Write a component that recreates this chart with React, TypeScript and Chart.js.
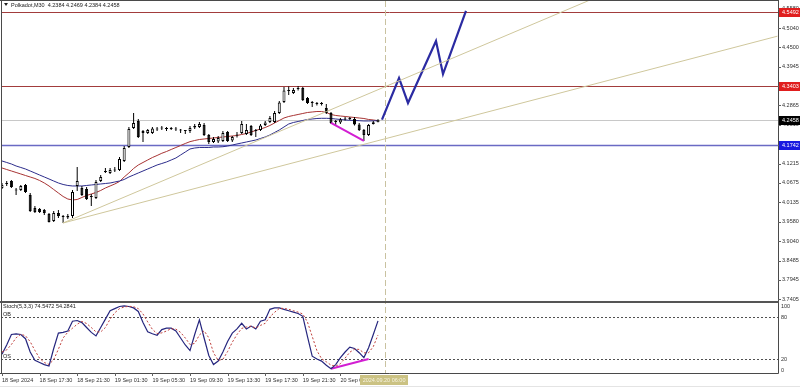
import React, { useEffect, useRef } from "react";
import { Chart, registerables } from "chart.js";

Chart.register(...registerables);

// ---------- DATA (Polkadot, M30) ----------
const openPrices = [
  4.0533, 4.0646, 4.0730, 4.0491, 4.0477, 4.0618, 4.0336, 3.9970, 3.9942, 3.9914,
  3.9801, 3.9604, 3.9829, 3.9745, 3.9702, 3.9745, 4.0590, 4.0533, 4.0505, 4.0308,
  4.0252, 4.0730, 4.0984, 4.0956, 4.1040, 4.1040, 4.1294, 4.1688, 4.2223, 4.2421,
  4.2139, 4.2083, 4.2083, 4.2181, 4.2223, 4.2209, 4.2195, 4.2209, 4.2181, 4.2153,
  4.2139, 4.2237, 4.2252, 4.2308, 4.2026, 4.1829, 4.1843, 4.1857, 4.2111, 4.1871,
  4.2012, 4.2083, 4.2054, 4.2280, 4.2167, 4.2167, 4.2308, 4.2392, 4.2392, 4.2646,
  4.2956, 4.3294, 4.3209, 4.3322, 4.3350, 4.3068, 4.2956, 4.2914, 4.2899, 4.2787,
  4.2646, 4.2421, 4.2378, 4.2463, 4.2491, 4.2477, 4.2322, 4.2167, 4.2026, 4.2336,
  4.2384,
];
const highPrices = [
  4.0674, 4.0730, 4.0759, 4.0533, 4.0618, 4.0646, 4.0392, 4.0026, 3.9970, 3.9942,
  3.9829, 3.9885, 3.9914, 3.9773, 3.9801, 4.0477, 4.1125, 4.0590, 4.0561, 4.0364,
  4.0759, 4.0899, 4.1097, 4.1097, 4.1125, 4.1406, 4.1716, 4.2252, 4.2646, 4.2477,
  4.2167, 4.2195, 4.2252, 4.2252, 4.2280, 4.2252, 4.2252, 4.2252, 4.2195, 4.2167,
  4.2280, 4.2336, 4.2392, 4.2364, 4.2054, 4.1970, 4.1998, 4.2139, 4.2139, 4.1998,
  4.2111, 4.2421, 4.2336, 4.2308, 4.2195, 4.2336, 4.2421, 4.2561, 4.2702, 4.2984,
  4.3378, 4.3390, 4.3350, 4.3403, 4.3378, 4.3097, 4.2984, 4.2956, 4.2956, 4.2899,
  4.2674, 4.2449, 4.2505, 4.2533, 4.2533, 4.2533, 4.2364, 4.2195, 4.2336, 4.2421,
  4.2469,
];
const lowPrices = [
  4.0505, 4.0590, 4.0533, 4.0336, 4.0449, 4.0392, 3.9857, 3.9829, 3.9829, 3.9773,
  3.9562, 3.9576, 3.9688, 3.9547, 3.9660, 3.9688, 4.0449, 4.0308, 4.0195, 4.0026,
  4.0223, 4.0702, 4.0956, 4.0928, 4.0984, 4.1012, 4.1266, 4.1660, 4.2195, 4.1942,
  4.1829, 4.2054, 4.2054, 4.2139, 4.2167, 4.2139, 4.2167, 4.2139, 4.2083, 4.2054,
  4.2083, 4.2195, 4.2223, 4.1998, 4.1773, 4.1801, 4.1801, 4.1829, 4.1829, 4.1829,
  4.1956, 4.2054, 4.2026, 4.1998, 4.1970, 4.2139, 4.2280, 4.2364, 4.2364, 4.2618,
  4.2928, 4.3153, 4.3181, 4.3280, 4.2984, 4.2899, 4.2815, 4.2857, 4.2857, 4.2618,
  4.2336, 4.2280, 4.2336, 4.2435, 4.2449, 4.2294, 4.2139, 4.1857, 4.1998, 4.2322,
  4.2384,
];
const closePrices = [
  4.0618, 4.0674, 4.0561, 4.0463, 4.0590, 4.0421, 3.9885, 3.9857, 3.9857, 3.9829,
  3.9576, 3.9829, 3.9745, 3.9716, 3.9745, 4.0421, 4.0730, 4.0336, 4.0223, 4.0280,
  4.0702, 4.0843, 4.1012, 4.1040, 4.1026, 4.1350, 4.1660, 4.2195, 4.2364, 4.1970,
  4.2083, 4.2167, 4.2209, 4.2209, 4.2209, 4.2195, 4.2209, 4.2181, 4.2153, 4.2139,
  4.2223, 4.2280, 4.2336, 4.2026, 4.1829, 4.1914, 4.1942, 4.2083, 4.1857, 4.1970,
  4.2040, 4.2336, 4.2167, 4.2026, 4.2139, 4.2294, 4.2378, 4.2505, 4.2646, 4.2942,
  4.3280, 4.3266, 4.3294, 4.3350, 4.3012, 4.2928, 4.2928, 4.2899, 4.2914, 4.2646,
  4.2364, 4.2392, 4.2463, 4.2491, 4.2477, 4.2322, 4.2167, 4.2026, 4.2308, 4.2384,
  4.2458,
];
const maSlow = [
  4.1294, 4.1252, 4.1209, 4.1153, 4.1111, 4.1068, 4.1012, 4.0956, 4.0899, 4.0843,
  4.0787, 4.0730, 4.0674, 4.0632, 4.0604, 4.0590, 4.0590, 4.0590, 4.0604, 4.0618,
  4.0632, 4.0646, 4.0660, 4.0674, 4.0702, 4.0730, 4.0773, 4.0843, 4.0899, 4.0956,
  4.1012, 4.1068, 4.1125, 4.1181, 4.1223, 4.1266, 4.1322, 4.1378, 4.1463, 4.1547,
  4.1632, 4.1660, 4.1674, 4.1674, 4.1674, 4.1688, 4.1688, 4.1696, 4.1716, 4.1744,
  4.1773, 4.1801, 4.1829, 4.1857, 4.1885, 4.1928, 4.1970, 4.2026, 4.2097, 4.2167,
  4.2252, 4.2336, 4.2378, 4.2407, 4.2435, 4.2463, 4.2477, 4.2491, 4.2496, 4.2496,
  4.2491, 4.2477, 4.2463, 4.2449, 4.2440, 4.2435, 4.2429, 4.2421, 4.2421, 4.2426,
  4.2429,
];
const maFast = [
  4.1097, 4.1054, 4.1012, 4.0970, 4.0928, 4.0885, 4.0843, 4.0801, 4.0745, 4.0674,
  4.0590, 4.0491, 4.0392, 4.0294, 4.0223, 4.0195, 4.0209, 4.0266, 4.0322, 4.0364,
  4.0406, 4.0463, 4.0533, 4.0590, 4.0646, 4.0716, 4.0843, 4.0956, 4.1083, 4.1181,
  4.1252, 4.1322, 4.1392, 4.1449, 4.1511, 4.1561, 4.1618, 4.1674, 4.1730, 4.1787,
  4.1838, 4.1871, 4.1899, 4.1914, 4.1928, 4.1942, 4.1956, 4.1970, 4.1984, 4.1998,
  4.2012, 4.2040, 4.2068, 4.2111, 4.2153, 4.2195, 4.2237, 4.2294, 4.2364, 4.2435,
  4.2505, 4.2547, 4.2576, 4.2604, 4.2632, 4.2660, 4.2674, 4.2688, 4.2688, 4.2660,
  4.2604, 4.2576, 4.2561, 4.2547, 4.2533, 4.2519, 4.2505, 4.2491, 4.2463, 4.2449,
  4.2429,
];
const stochMain = [
  27, 40, 55, 56, 55, 49, 30, 18, 15, 12,
  10, 35, 57, 58, 60, 74, 75, 72, 65, 58,
  53, 65, 77, 89, 92, 95, 96, 95, 93, 88,
  72, 59, 56, 54, 62, 64, 64, 60, 50, 40,
  32, 55, 76, 50, 25, 12, 17, 30, 45, 57,
  63, 71, 63, 67, 63, 74, 76, 91, 93, 93,
  91, 89, 87, 85, 81, 52, 24, 20, 17, 11,
  6, 12, 22, 30, 37, 35, 29, 22, 36, 55,
  74.5,
];
const stochSignal = [
  30, 33, 40.7, 50.3, 55.3, 53.3, 44.7, 32.3, 21, 15,
  12.3, 19, 34, 50, 58.3, 64, 69.7, 73.7, 70.7, 65,
  58.7, 58.7, 65, 77, 86, 92, 94.3, 95.3, 94.7, 92,
  84.3, 73, 62.3, 56.3, 57.3, 60, 63.3, 62.7, 58, 50,
  40.7, 42.3, 54.3, 60.3, 50.3, 29, 18, 19.7, 30.7, 44,
  55, 63.7, 65.7, 67, 64.3, 68, 71, 80.3, 86.7, 92.3,
  92.3, 91, 89, 87, 84.3, 72.7, 52.3, 32, 20.3, 16,
  11.3, 9.7, 13.3, 21.3, 29.7, 34, 33.7, 28.7, 29, 37.7,
  54.3,
];

const priceTicks = [4.558, 4.504, 4.45, 4.3945, 4.3405, 4.2865, 4.231, 4.1755, 4.1215, 4.0675, 4.0135, 3.958, 3.904, 3.8485, 3.7945, 3.7405];
const resistanceLevels = [4.5492, 4.3403];
const supportLevel = 4.1742;
const lastPrice = 4.2458;
const timeLabels = ["18 Sep 2024", "18 Sep 17:30", "18 Sep 21:30", "19 Sep 01:30", "19 Sep 05:30", "19 Sep 09:30", "19 Sep 13:30", "19 Sep 17:30", "19 Sep 21:30", "20 Sep 01:30"];
const timeLabelBars = [0, 8, 16, 24, 32, 40, 48, 56, 64, 72];
const cursorBar = 81.5;
const cursorLabel = "2024.09.20 06:00";
const stochLevels = [80, 20];
const stochAxisLabels = [100, 80, 20, 0];
const projectionBars = [80.85, 84.47, 86.38, 92.34, 93.83, 98.72];
const projectionPrices = [4.246, 4.3632, 4.2928, 4.4674, 4.3744, 4.5519];
const trendBars = [13, 165];
const trendUpperPrices = [3.9547, 4.8064];
const trendLowerPrices = [3.9547, 4.481];
const divergenceBars = [70, 77];
const divergencePrices = [4.2364, 4.1857];
const stochDivBars = [70, 78];
const stochDivValues = [6, 20];
const titleText = "Polkadot,M30  4.2384 4.2469 4.2384 4.2458";
const stochTitle = "Stoch(5,3,3) 74.5472 54.2841";

// ---------- helpers ----------
const FONT = '5.5px "Liberation Sans", Arial, sans-serif';
const TXT = "#303030";

const pts = (xs: number[], ys: number[]) => xs.map((x, i) => ({ x, y: ys[i] }));
const series = (ys: number[]) => ys.map((y, i) => ({ x: i, y }));

const lineDs = (data: any[], color: string, width: number, axis = "y", dash: number[] = [], order = 0) => ({
  type: "line",
  data,
  borderColor: color,
  borderWidth: width,
  borderDash: dash,
  pointRadius: 0,
  fill: false,
  tension: 0,
  yAxisID: axis,
  order,
});

const mt4Plugin = {
  id: "mt4",
  beforeDraw(chart: any) {
    const { ctx, width, height } = chart;
    ctx.save();
    ctx.fillStyle = "#ffffff";
    ctx.fillRect(0, 0, width, height);
    ctx.restore();
  },
  beforeDatasetsDraw(chart: any) {
    const { ctx, chartArea: a } = chart;
    const ys = chart.scales.y, y2 = chart.scales.y2, xs = chart.scales.x;
    ctx.save();
    const hline = (v: number, color: string, w: number) => {
      const py = Math.round(ys.getPixelForValue(v)) + 0.5;
      ctx.strokeStyle = color;
      ctx.lineWidth = w;
      ctx.beginPath();
      ctx.moveTo(a.left, py);
      ctx.lineTo(a.right, py);
      ctx.stroke();
    };
    hline(lastPrice, "#c8c8c8", 1);
    resistanceLevels.forEach((v) => hline(v, "#a23c3c", 1));
    hline(supportLevel, "#6a6ac4", 1.6);
    // stoch levels
    ctx.setLineDash([2, 2]);
    ctx.strokeStyle = "#505050";
    ctx.lineWidth = 1;
    stochLevels.forEach((v) => {
      const py = Math.round(y2.getPixelForValue(v)) + 0.5;
      ctx.beginPath();
      ctx.moveTo(a.left, py);
      ctx.lineTo(a.right, py);
      ctx.stroke();
    });
    // cursor vertical
    ctx.setLineDash([6, 3]);
    ctx.strokeStyle = "#c9c2a0";
    const cx = Math.round(xs.getPixelForValue(cursorBar)) + 0.5;
    ctx.beginPath();
    ctx.moveTo(cx, a.top);
    ctx.lineTo(cx, a.bottom);
    ctx.stroke();
    ctx.restore();
  },
  afterDatasetsDraw(chart: any) {
    const { ctx, chartArea: a, width } = chart;
    const ys = chart.scales.y, y2 = chart.scales.y2, xs = chart.scales.x;
    const sepY = Math.round(y2.getPixelForValue(100)) - 2;
    ctx.save();
    // borders
    ctx.strokeStyle = "#4a4a4a";
    ctx.lineWidth = 1;
    ctx.beginPath();
    ctx.moveTo(0, 0.5); ctx.lineTo(a.right, 0.5);
    ctx.moveTo(1.5, 0); ctx.lineTo(1.5, a.bottom);
    ctx.moveTo(a.right + 0.5, 0); ctx.lineTo(a.right + 0.5, a.bottom + 0.5);
    ctx.moveTo(0, a.bottom + 0.5); ctx.lineTo(a.right + 0.5, a.bottom + 0.5);
    ctx.stroke();
    ctx.fillStyle = "#555555";
    ctx.fillRect(0, sepY, a.right + 1, 2);
    ctx.fillStyle = "#e4e4e4";
    ctx.fillRect(0, 386, width, 1);

    ctx.font = FONT;
    ctx.textBaseline = "middle";
    // price axis
    ctx.textAlign = "left";
    priceTicks.forEach((v) => {
      const py = ys.getPixelForValue(v);
      ctx.strokeStyle = "#606060";
      ctx.beginPath();
      ctx.moveTo(a.right, Math.round(py) + 0.5);
      ctx.lineTo(a.right + 3, Math.round(py) + 0.5);
      ctx.stroke();
      ctx.fillStyle = TXT;
      ctx.fillText(v.toFixed(4), a.right + 4, py);
    });
    const box = (v: number, bg: string) => {
      const py = ys.getPixelForValue(v);
      ctx.fillStyle = bg;
      ctx.fillRect(a.right + 1, Math.round(py) - 4, width - a.right - 1, 9);
      ctx.fillStyle = "#ffffff";
      ctx.fillText(v.toFixed(4), a.right + 4, Math.round(py) + 0.5);
    };
    resistanceLevels.forEach((v) => box(v, "#e01e1e"));
    box(lastPrice, "#000000");
    box(supportLevel, "#1a1ae0");

    // stoch axis
    ctx.fillStyle = TXT;
    stochAxisLabels.forEach((v) => {
      let py = y2.getPixelForValue(v);
      if (v === 100) py += 3;
      if (v === 0) py -= 3;
      ctx.fillText(String(v), a.right + 3, py);
    });

    // time axis
    timeLabels.forEach((t, i) => {
      const px = xs.getPixelForValue(timeLabelBars[i]);
      ctx.strokeStyle = "#606060";
      ctx.beginPath();
      ctx.moveTo(Math.round(px) + 0.5, a.bottom);
      ctx.lineTo(Math.round(px) + 0.5, a.bottom + 3);
      ctx.stroke();
      ctx.fillStyle = TXT;
      ctx.fillText(t, px, a.bottom + 7);
    });
    const cx = xs.getPixelForValue(cursorBar);
    const tw = ctx.measureText(cursorLabel).width + 5;
    ctx.fillStyle = "#cbc283";
    ctx.fillRect(Math.round(cx - tw / 2 - 1), a.bottom + 2, Math.round(tw), 10);
    ctx.fillStyle = "#f6f3e0";
    ctx.textAlign = "center";
    ctx.fillText(cursorLabel, cx - 1, a.bottom + 7);

    // titles
    ctx.textAlign = "left";
    ctx.fillStyle = "#202020";
    ctx.beginPath();
    ctx.moveTo(4, 3); ctx.lineTo(8, 3); ctx.lineTo(6, 6); ctx.closePath();
    ctx.fill();
    ctx.fillText(titleText, 11, 5);
    ctx.fillText(stochTitle, 3, sepY + 5);
    ctx.fillText("OB", 3, y2.getPixelForValue(80) - 3);
    ctx.fillText("OS", 3, y2.getPixelForValue(20) - 3);
    ctx.restore();
  },
};

export default function App() {
  const ref = useRef<HTMLCanvasElement>(null);
  useEffect(() => {
    document.body.style.margin = "0";
    const canvas = ref.current;
    if (!canvas) return;
    const idx = closePrices.map((_, i) => i);
    const wickData = idx.map((i) => ({ x: i, y: [lowPrices[i], highPrices[i]] }));
    const bodyData = idx.map((i) => ({ x: i, y: [openPrices[i], closePrices[i]] }));
    const bodyColors = idx.map((i) => (closePrices[i] >= openPrices[i] ? "#ffffff" : "#000000"));

    const chart = new Chart(canvas, {
      type: "bar",
      data: {
        datasets: [
          lineDs(series(maSlow), "#2d2d8c", 1, "y", [], 3),
          lineDs(series(maFast), "#a83434", 1, "y", [], 3),
          {
            type: "bar",
            data: wickData,
            backgroundColor: "#000000",
            borderWidth: 0,
            barThickness: 1,
            grouped: false,
            inflateAmount: 0,
            yAxisID: "y",
            order: 2,
          },
          {
            type: "bar",
            data: bodyData,
            backgroundColor: bodyColors,
            borderColor: "#000000",
            borderWidth: 1,
            borderSkipped: false,
            barThickness: 3,
            minBarLength: 1,
            grouped: false,
            inflateAmount: 0,
            yAxisID: "y",
            order: 1,
          },
          lineDs(pts(trendBars, trendUpperPrices), "#cfc79c", 1),
          lineDs(pts(trendBars, trendLowerPrices), "#cfc79c", 1),
          lineDs(pts(divergenceBars, divergencePrices), "#d21ed2", 2),
          lineDs(pts(projectionBars, projectionPrices), "#2b2ba2", 2.2),
          lineDs(series(stochSignal), "#c0403c", 1, "y2", [2, 2]),
          lineDs(series(stochMain), "#26267e", 1.2, "y2"),
          lineDs(pts(stochDivBars, stochDivValues), "#d21ed2", 2, "y2"),
        ] as any,
      },
      options: {
        responsive: false,
        animation: false,
        devicePixelRatio: 1,
        events: [],
        layout: { padding: { left: 1, top: 1, right: 22, bottom: 14 } },
        plugins: { legend: { display: false }, tooltip: { enabled: false } },
        scales: {
          x: { type: "linear", min: -0.21277, max: 165.1064, display: false, offset: false, bounds: "data" },
          y: { type: "linear", min: 3.532166, max: 4.58005, display: false, bounds: "data" },
          y2: { type: "linear", min: 0, max: 531.43, display: false, bounds: "data" },
        },
      } as any,
      plugins: [mt4Plugin as any],
    });
    return () => chart.destroy();
  }, []);
  return (
    <div style={{ position: "fixed", left: 0, top: 0, width: 800, height: 387, background: "#fff" }}>
      <canvas ref={ref} width={800} height={387} style={{ display: "block", width: 800, height: 387 }} />
    </div>
  );
}
